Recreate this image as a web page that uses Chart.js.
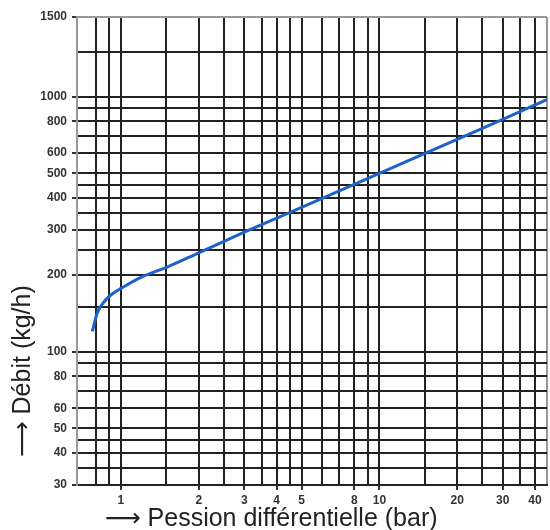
<!DOCTYPE html>
<html>
<head>
<meta charset="utf-8">
<script src="https://cdn.jsdelivr.net/npm/chart.js@4.4.0/dist/chart.umd.min.js"></script>
<style>
  html, body { margin: 0; padding: 0; background: #fff; }
  #wrap { width: 550px; height: 530px; }
</style>
</head>
<body>
<div id="wrap"><canvas id="debit-chart"></canvas></div>
<script>
// courbe débit / pression différentielle
const pression = [0.775, 0.81, 0.845, 0.88, 0.93, 1, 1.2, 1.5, 2, 3, 5, 10, 20, 30, 44.5];
const debit = [120, 142, 153, 161, 169, 177, 196, 214, 244, 294, 368, 500, 680, 813, 973];

// lignes de la grille et graduations
const xGrid = [0.8, 0.9, 1, 1.5, 2, 2.5, 3, 3.5, 4, 4.5, 5, 6, 7, 8, 9, 10, 15, 20, 25, 30, 35, 40];
const xLabels = [1, 2, 3, 4, 5, 8, 10, 20, 30, 40];
const yGrid = [30, 35, 40, 45, 50, 60, 70, 80, 90, 100, 150, 200, 250, 300, 350, 400, 450, 500, 600, 700, 800, 900, 1000, 1500];
const yLabels = [30, 40, 50, 60, 80, 100, 200, 300, 400, 500, 600, 800, 1000];
const yTopLabel = "1500";

const xMin = 0.676, xMax = 44.5;
const yMin = 30, yMax = 2050;

document.addEventListener("DOMContentLoaded", function () {
  const ctx = document.getElementById("debit-chart").getContext("2d");
  const tickFont = { family: "'Liberation Sans', Arial, sans-serif", size: 12, weight: "bold" };
  const titleFont = { family: "'Liberation Sans', 'DejaVu Sans', sans-serif", size: 25, lineHeight: 1 };

  new Chart(ctx, {
    type: "line",
    data: {
      datasets: [
        {
          label: "Débit",
          data: pression.map(function (p, i) { return { x: p, y: debit[i] }; }),
          borderColor: "#1f62c6",
          borderWidth: 3,
          pointRadius: 0,
          cubicInterpolationMode: "monotone",
          fill: false,
        },
      ],
    },
    options: {
      responsive: true,
      maintainAspectRatio: false,
      animation: false,
      layout: { padding: { top: 17, right: 2, left: 0, bottom: 0 } },
      scales: {
        x: {
          type: "logarithmic",
          min: xMin,
          max: xMax,
          afterBuildTicks: function (scale) {
            scale.ticks = xGrid.concat([xMax]).map(function (v) { return { value: v }; });
          },
          afterFit: function (scale) { scale.height = 45; },
          ticks: {
            autoSkip: false,
            maxRotation: 0,
            padding: 3,
            color: "#333",
            font: tickFont,
            callback: function (value) {
              return xLabels.includes(value) ? String(value) : "";
            },
          },
          grid: {
            color: function (c) { return c.tick && c.tick.value === xMax ? "#999" : "#222"; },
            lineWidth: 2,
            tickLength: 5,
            tickColor: function (c) { return c.tick && xLabels.includes(c.tick.value) ? "#333" : "rgba(0,0,0,0)"; },
          },
          border: { color: "#222", width: 2 },
          title: {
            display: true,
            align: "start",
            text: "    ⟶ Pession différentielle (bar)",
            color: "#222",
            font: titleFont,
            padding: { top: 0, bottom: -2 },
          },
        },
        y: {
          type: "logarithmic",
          min: yMin,
          max: yMax,
          afterBuildTicks: function (scale) {
            scale.ticks = yGrid.concat([yMax]).map(function (v) { return { value: v }; });
          },
          afterFit: function (scale) { scale.width = 77; },
          ticks: {
            autoSkip: false,
            padding: 5,
            color: "#333",
            font: tickFont,
            callback: function (value) {
              if (value === yMax) return yTopLabel;
              return yLabels.includes(value) ? String(value) : "";
            },
          },
          grid: {
            color: function (c) { return c.tick && c.tick.value === yMax ? "#999" : "#222"; },
            lineWidth: 2,
            tickLength: 5,
            tickColor: function (c) {
              return c.tick && (yLabels.includes(c.tick.value) || c.tick.value === yMax) ? "#333" : "rgba(0,0,0,0)";
            },
          },
          border: { color: "#999", width: 2 },
          title: {
            display: true,
            align: "start",
            text: "    ⟶ Débit (kg/h)",
            color: "#222",
            font: titleFont,
            padding: { top: 11, bottom: 0 },
          },
        },
      },
      plugins: {
        legend: { display: false },
        tooltip: { enabled: false },
      },
    },
  });
});
</script>
</body>
</html>
